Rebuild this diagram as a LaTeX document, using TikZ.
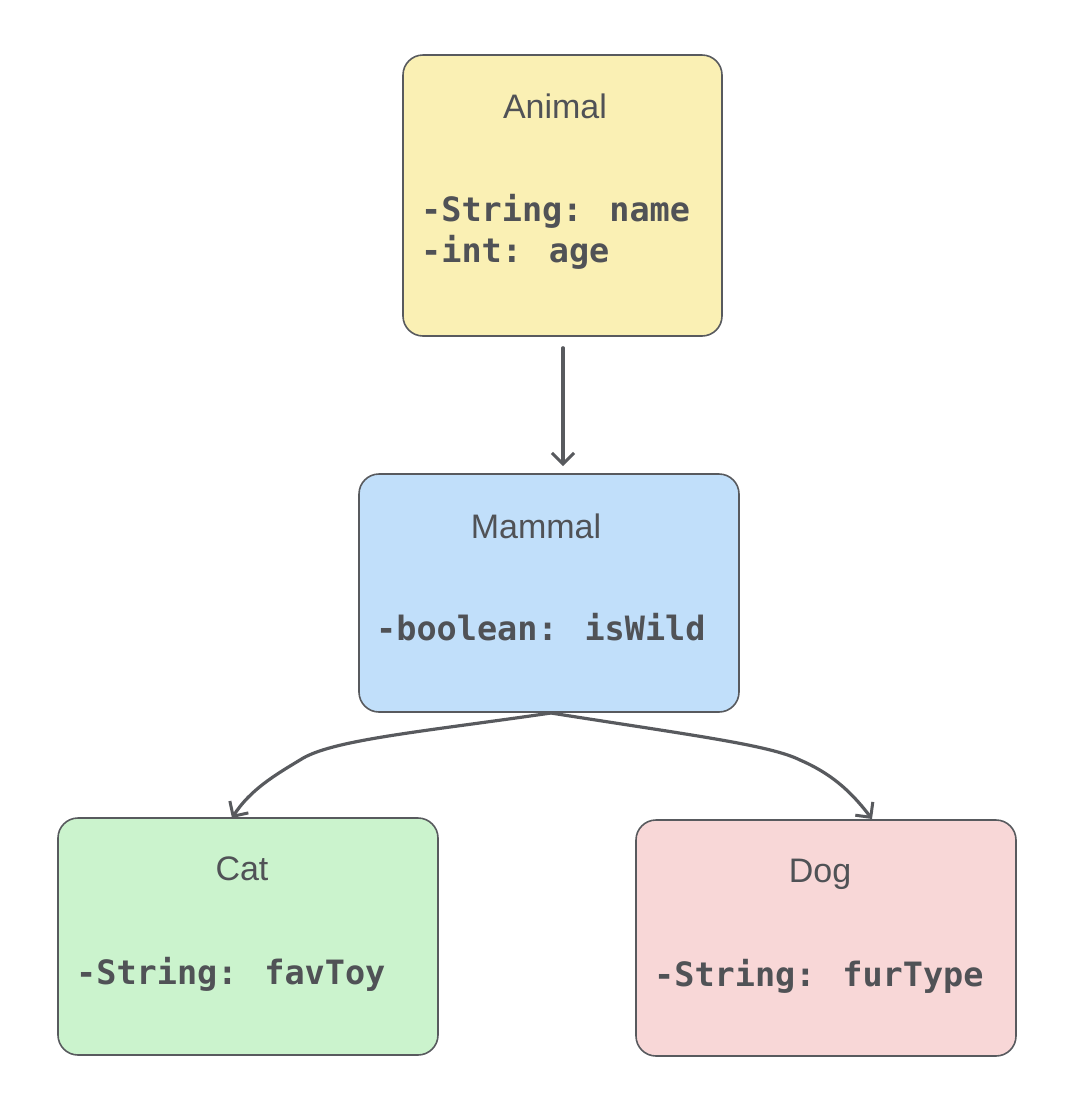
\documentclass[tikz,border=0pt]{standalone}
\usepackage{fontspec}
\setmainfont{Liberation Sans}
\newfontfamily\codefont{DejaVu Sans Mono}
\usetikzlibrary{arrows.meta}
\definecolor{ink}{RGB}{80,82,86}
\definecolor{edge}{RGB}{88,90,94}
\definecolor{fillA}{RGB}{250,240,180}
\definecolor{fillM}{RGB}{193,223,250}
\definecolor{fillC}{RGB}{203,243,205}
\definecolor{fillD}{RGB}{248,215,215}
\tikzset{
  classbox/.style={draw=edge, line width=1.6pt, rounded corners=20pt, inner sep=0pt},
  title/.style={anchor=base, text=ink, font=\fontsize{34}{34}\selectfont, inner sep=0pt},
  attr/.style={anchor=base west, text=ink, font=\codefont\bfseries\fontsize{33.5}{41}\selectfont, inner sep=0pt, align=left},
  conn/.style={draw=edge, line width=3.2pt, line cap=round, -{Straight Barb[length=11pt,width=22pt,line width=3pt]}}
}
\begin{document}
\begin{tikzpicture}[x=1pt,y=-1pt]
\useasboundingbox (0,0) rectangle (1082,1096);
% boxes
\node[classbox, fill=fillA, minimum width=319pt, minimum height=281pt] (animal) at (562.5,195.5) {};
\node[classbox, fill=fillM, minimum width=380pt, minimum height=238pt] (mammal) at (549,593) {};
\node[classbox, fill=fillC, minimum width=380pt, minimum height=237pt] (cat) at (248,936.5) {};
\node[classbox, fill=fillD, minimum width=380pt, minimum height=236pt] (dog) at (826,938) {};
% titles
\node[title] (animalT) at (555,118) {Animal};
\node[title] (mammalT) at (536,538) {Mammal};
\node[title] (catT) at (242,880) {Cat};
\node[title] (dogT) at (820,882) {Dog};
% attributes
\node[attr] (animalA1) at (421,221) {-String: name};
\node[attr] (animalA2) at (421,262) {-int: age};
\node[attr] (mammalA) at (376,640) {-boolean: isWild};
\node[attr] (catA) at (76,984) {-String: favToy};
\node[attr] (dogA) at (654,986) {-String: furType};
% connectors
\coordinate (mIn) at (563,474);
\coordinate (catIn) at (232,818);
\coordinate (dogIn) at (872,819);
\coordinate (mOut) at (551,713);
\draw[conn, shorten <=11pt, shorten >=8pt] (animal.south -| mIn) -- (mIn);
\draw[conn] (mOut) .. controls (420,732) and (330,740) .. (300,760) .. controls (275,775) and (250,790) .. (catIn);
\draw[conn] (mOut) .. controls (690,735) and (770,745) .. (800,760) .. controls (830,773) and (850,790) .. (dogIn);
\end{tikzpicture}
\end{document}
